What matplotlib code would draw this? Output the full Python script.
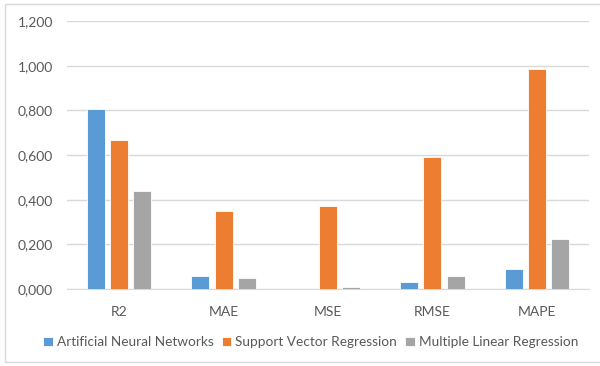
import numpy as np
import matplotlib.pyplot as plt
from matplotlib.patches import Rectangle
from matplotlib.ticker import FuncFormatter

# métriques d'erreur par modèle
metriques = ["R2", "MAE", "MSE", "RMSE", "MAPE"]
ann = [0.806, 0.057, 0.0, 0.031, 0.090]
svr = [0.667, 0.349, 0.371, 0.590, 0.986]
mlr = [0.439, 0.050, 0.007, 0.060, 0.222]
noms = ["Artificial Neural Networks", "Support Vector Regression", "Multiple Linear Regression"]
couleurs = ["#5b9bd5", "#ed7d31", "#a5a5a5"]

plt.rcParams['font.family'] = ['Lato', 'DejaVu Sans']
gris = "#595959"

fig = plt.figure(figsize=(6, 3.66), dpi=100)
ax = fig.add_axes([67/600, 1 - 289/366, (589-67)/600, (289-21)/366])

x = np.arange(len(metriques))
w = 0.172
pas = 0.222
for i, (vals, nom, c) in enumerate(zip([ann, svr, mlr], noms, couleurs)):
    ax.bar(x + (i - 1) * pas, vals, width=w, color=c, label=nom,
           edgecolor="white", linewidth=0.6, zorder=3)

ax.set_xlim(-0.5, len(metriques) - 0.5)
ax.set_ylim(0, 1.2)
ax.set_yticks(np.arange(0, 1.21, 0.2))
ax.yaxis.set_major_formatter(FuncFormatter(lambda v, p: f"{v:.3f}".replace(".", ",")))
ax.set_xticks(x)
ax.set_xticklabels(metriques)
ax.grid(axis="y", color="#d9d9d9", linewidth=1, zorder=0)
for s in ["top", "right", "left"]:
    ax.spines[s].set_visible(False)
ax.spines["bottom"].set_color("#d9d9d9")
ax.tick_params(length=0, colors=gris, labelsize=10)
ax.tick_params(axis="x", pad=12)
ax.tick_params(axis="y", pad=10)

fig.legend(loc="lower center", bbox_to_anchor=(0.518, 0.015), ncol=3, frameon=False,
           fontsize=9.8, labelcolor=gris, handlelength=0.7, handleheight=0.7,
           handletextpad=0.3, columnspacing=0.6)

# cadre du graphique
fig.patches.append(Rectangle((5/600, 4/366), 600/600, 358/366, transform=fig.transFigure,
                             fill=False, edgecolor="#d9d9d9", linewidth=1))

fig.savefig("out.png", dpi=100)
